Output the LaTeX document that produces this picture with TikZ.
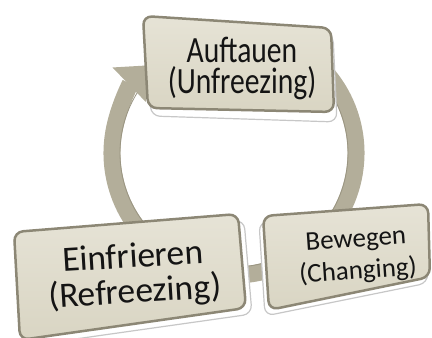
\documentclass[tikz,border=0pt]{standalone}
\usepackage{fontspec}
\setmainfont{Carlito}
\usetikzlibrary{arrows.meta}
\definecolor{ringc}{HTML}{B3AE9A}
\definecolor{ringdark}{HTML}{9A9582}
\definecolor{boxfill}{HTML}{D9D5C3}
\definecolor{boxtop}{HTML}{E6E3D6}
\definecolor{boxedge}{HTML}{8C8775}
\begin{document}
\begin{tikzpicture}[x=1pt,y=1pt,
  bevel/.style={fill=white, draw=black!22, line width=1.2pt, rounded corners=9pt},
  boxbody/.style={top color=boxtop, bottom color=boxfill, draw=boxedge, line width=2.5pt, rounded corners=9pt},
  lbl/.style={align=center, text=black!92, inner sep=0pt},
  ring/.style={draw=ringc, line width=17pt}]
\useasboundingbox (0,0) rectangle (432,338);
% cycle ring
\coordinate (ctr) at (234,185);
\draw[ring, -{Triangle[width=46pt,length=28pt]}] (ctr) ++(80:122) arc[start angle=80, end angle=-226, radius=122];
\draw[ringdark, line width=0.8pt] (ctr) ++(80:114) arc[start angle=80, end angle=-212, radius=114];
% top box
\draw[bevel] (146,316) -- (333,304) -- (337,216) -- (151,222) -- cycle;
\draw[boxbody] (143,322) -- (331,310) -- (334,226) -- (148,230) -- cycle;
% bottom-left box
\draw[bevel] (20,100) -- (244,118) -- (252,24) -- (26,-8) -- cycle;
\draw[boxbody] (14,106) -- (238,124) -- (246,30) -- (20,-2) -- cycle;
% bottom-right box
\draw[bevel] (259,116) -- (426,128) -- (428,55) -- (265,22) -- cycle;
\draw[boxbody] (263,122) -- (428,134) -- (430,61) -- (269,28) -- cycle;
% labels
\node[lbl, font=\fontsize{37}{31.5}\selectfont, xscale=0.8] (unfreeze) at (242,269.5) {Auftauen\\(Unfreezing)};
\node[lbl, font=\fontsize{35.5}{35}\selectfont, rotate=3.5] (refreeze) at (134,62) {Einfrieren\\(Refreezing)};
\node[lbl, font=\fontsize{27}{32}\selectfont, rotate=4] (change) at (357,81.5) {Bewegen\\(Changing)};
\end{tikzpicture}
\end{document}
